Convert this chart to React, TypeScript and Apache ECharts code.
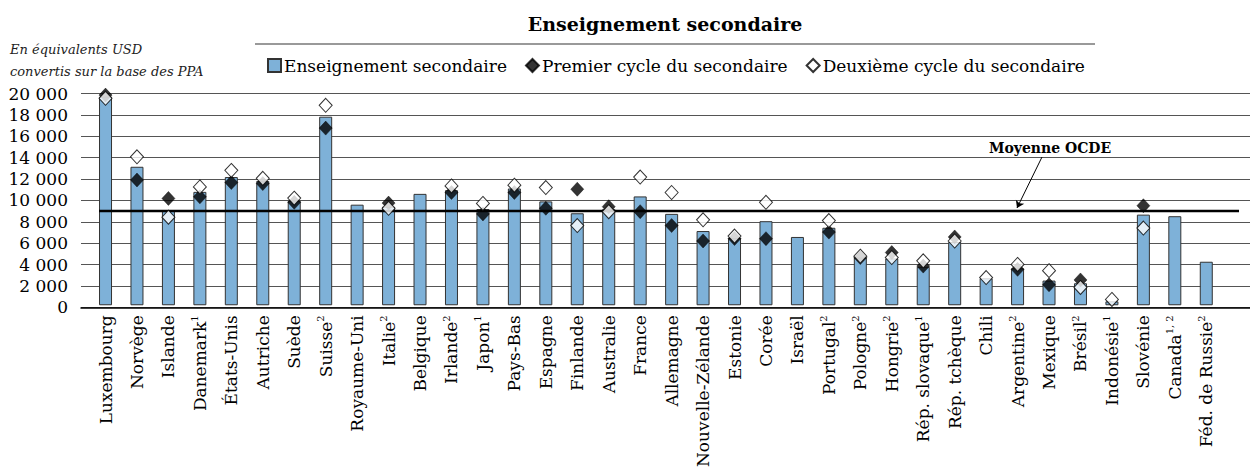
import React, { useEffect, useRef } from "react";
import * as echarts from "echarts";

const countries = [
  "Luxembourg", "Norvège", "Islande", "Danemark", "États-Unis", "Autriche", "Suède", "Suisse",
  "Royaume-Uni", "Italie", "Belgique", "Irlande", "Japon", "Pays-Bas", "Espagne", "Finlande",
  "Australie", "France", "Allemagne", "Nouvelle-Zélande", "Estonie", "Corée", "Israël", "Portugal",
  "Pologne", "Hongrie", "Rép. slovaque", "Rép. tchèque", "Chili", "Argentine", "Mexique", "Brésil",
  "Indonésie", "Slovénie", "Canada", "Féd. de Russie",
];
const notes = [
  "", "", "", "1", "", "", "", "2",
  "", "2", "", "2", "1", "", "", "",
  "", "", "", "", "", "", "", "2",
  "2", "2", "1", "", "", "2", "", "2",
  "1", "", "1, 2", "2",
];
const secondaire = [
  19700, 13080, 8900, 10710, 12110, 11740, 9870, 17810,
  9500, 9300, 10520, 10870, 9090, 11030, 9810, 8690,
  9100, 10280, 8630, 7010, 6350, 7940, 6450, 7320,
  4510, 4420, 3640, 5980, 2550, 3490, 2330, 2080,
  370, 8560, 8410, 4110,
];
const premierCycle: (number | null)[] = [
  19850, 11830, 10090, 10240, 11590, 11490, 9720, 16730,
  null, 9650, null, 10650, 8630, 10650, 9160, 10960,
  9310, 8840, 7530, 6070, 6300, 6290, null, 6910,
  4500, 4980, 3700, 6450, null, 3390, 1930, 2390,
  null, 9400, null, null,
];
const deuxiemeCycle: (number | null)[] = [
  19550, 14020, 8320, 11180, 12740, 11990, 10120, 18880,
  null, 9160, null, 11270, 9620, 11340, 11120, 7530,
  8840, 12110, 10650, 8070, 6540, 9720, null, 8000,
  4640, 4510, 4200, 6070, 2620, 3860, 3270, 1680,
  550, 7290, null, null,
];
const moyenneOCDE = 9000;
const yTicks = { min: 0, max: 20000, interval: 2000 };

const FONT = "DejaVu Serif";

export default function App() {
  const ref = useRef<HTMLDivElement>(null);
  useEffect(() => {
    document.body.style.margin = "0";
    if (!ref.current) return;
    const chart = echarts.init(ref.current, null, { renderer: "svg" });
    const option: any = {
      animation: false,
      textStyle: { fontFamily: FONT, color: "#000" },
      title: {
        text: "Enseignement secondaire",
        left: 660,
        textAlign: "center",
        top: 9,
        textStyle: { fontFamily: FONT, fontWeight: "bold", fontSize: 19, color: "#000" },
      },
      legend: {
        left: 267,
        top: 57,
        padding: 0,
        itemWidth: 13,
        itemHeight: 13,
        itemGap: 18,
        textStyle: { fontFamily: FONT, fontSize: 17, color: "#000", padding: [0, 0, 0, -2] },
        data: [
          { name: "Enseignement secondaire", icon: "rect" },
          { name: "Premier cycle du secondaire" },
          { name: "Deuxième cycle du secondaire" },
        ],
      },
      graphic: [
        {
          type: "text",
          left: 10,
          top: 38,
          style: {
            text: "En équivalents USD\nconvertis sur la base des PPA",
            font: `italic 13px ${FONT}`,
            lineHeight: 22,
            fill: "#222",
          },
        },
        {
          type: "line",
          shape: { x1: 255, y1: 44, x2: 1095, y2: 44 },
          style: { stroke: "#777", lineWidth: 1.5 },
        },
        {
          type: "text",
          x: 1050,
          y: 148,
          style: {
            text: "Moyenne OCDE",
            font: `bold 14px ${FONT}`,
            fill: "#000",
            align: "center",
            verticalAlign: "middle",
          },
        },
      ],
      grid: [
        { left: 81, right: 0, top: 93.5, bottom: 162.7 },
        { left: 89.8, right: 28, top: 93.5, bottom: 162.7 },
      ],
      xAxis: [
        {
          gridIndex: 0,
          type: "value",
          min: 0,
          max: 1,
          axisLine: { show: true, onZero: false, lineStyle: { color: "#000", width: 1.5 } },
          axisTick: { show: false },
          axisLabel: { show: false },
          splitLine: { show: false },
        },
        {
          gridIndex: 1,
          type: "category",
          data: countries,
          axisLine: { show: false },
          axisTick: { show: false },
          axisLabel: {
            interval: 0,
            rotate: 90,
            margin: 10,
            formatter: (v: string, i: number) =>
              notes[i] ? `{n|${v}}{s|${notes[i]}}` : `{n|${v}}`,
            rich: {
              n: { fontFamily: FONT, fontSize: 17, color: "#000", lineHeight: 20 },
              s: { fontFamily: FONT, fontSize: 10, color: "#000", lineHeight: 20, verticalAlign: "top", padding: [0, 0, 9, 0] },
            },
          },
        },
      ],
      yAxis: [
        {
          gridIndex: 0,
          type: "value",
          ...yTicks,
          axisLine: { show: false },
          axisTick: { show: false },
          axisLabel: {
            margin: 13,
            fontFamily: FONT,
            fontSize: 17,
            color: "#000",
            formatter: (v: number) => v.toLocaleString("fr-FR").replace(/\s/g, " "),
          },
          splitLine: { lineStyle: { color: "#555", width: 1 } },
        },
        {
          gridIndex: 1,
          type: "value",
          ...yTicks,
          show: false,
          splitLine: { show: false },
        },
      ],
      series: [
        {
          name: "Moyenne OCDE",
          type: "line",
          xAxisIndex: 0,
          yAxisIndex: 0,
          data: [
            [0.0154, moyenneOCDE],
            [0.9906, moyenneOCDE],
          ],
          symbol: "none",
          lineStyle: { color: "#000", width: 2.5 },
          z: 4,
          markLine: {
            silent: true,
            symbol: ["none", "arrow"],
            symbolSize: 7,
            lineStyle: { color: "#000", width: 1, type: "solid" },
            label: { show: false },
            data: [[{ x: 1042, y: 157 }, { x: 1017, y: 208 }]],
          },
        },
        {
          name: "Enseignement secondaire",
          type: "bar",
          xAxisIndex: 1,
          yAxisIndex: 1,
          data: secondaire,
          barWidth: 13,
          itemStyle: { color: "#7EB1D8", borderColor: "#333", borderWidth: 1 },
          z: 2,
        },
        {
          name: "Premier cycle du secondaire",
          type: "scatter",
          xAxisIndex: 1,
          yAxisIndex: 1,
          data: premierCycle,
          symbol: "diamond",
          symbolSize: [13, 14],
          itemStyle: { color: "#000", borderColor: "#000", borderWidth: 0.5 },
          z: 5,
        },
        {
          name: "Deuxième cycle du secondaire",
          type: "scatter",
          xAxisIndex: 1,
          yAxisIndex: 1,
          data: deuxiemeCycle,
          symbol: "diamond",
          symbolSize: [13, 14],
          itemStyle: { color: "#fff", borderColor: "#000", borderWidth: 1 },
          z: 6,
        },
      ],
    };
    chart.setOption(option);
    return () => chart.dispose();
  }, []);
  return <div ref={ref} style={{ width: 1250, height: 470 }} />;
}
